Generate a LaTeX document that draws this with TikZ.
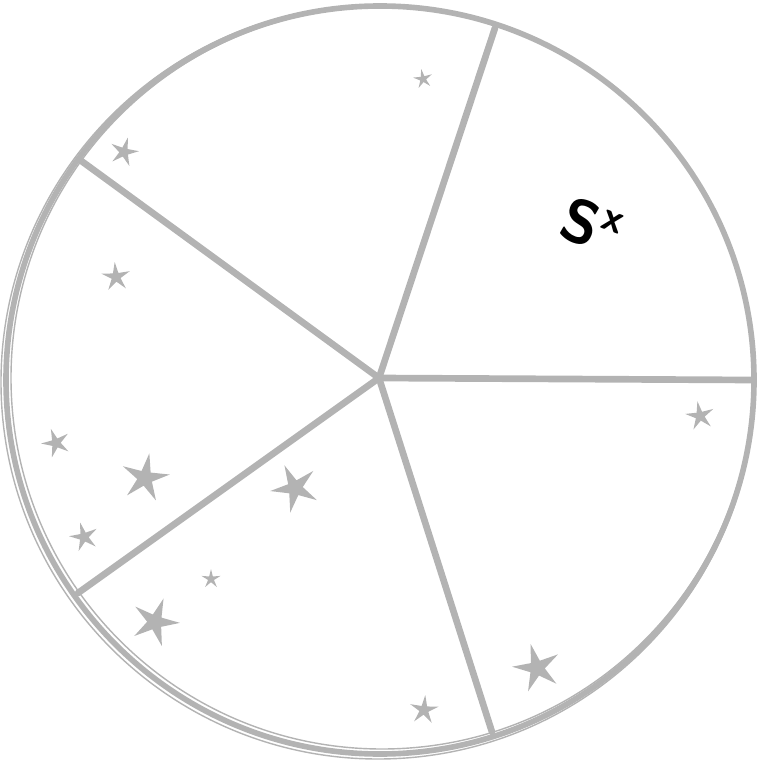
\documentclass[tikz,border=0pt]{standalone}
\usetikzlibrary{shapes.geometric}
\definecolor{chalk}{HTML}{B3B3B3}
\tikzset{
  rim/.style={draw=chalk, line width=1.6pt},
  spoke/.style={draw=chalk, line width=1.9pt, line cap=round},
  starmark/.style={star, star points=5, star point ratio=3.2, fill=chalk, draw=none, inner sep=0pt}
}
\begin{document}
\begin{tikzpicture}[x=0.01cm, y=-0.01cm]
        \useasboundingbox (0,0) rectangle (761,761);
        % Coordinates
        \coordinate (O) at (379, 378);
        \coordinate (A) at (495, 28);
        \coordinate (B) at (752, 380);
        \coordinate (C) at (492, 732);
        \coordinate (D) at (78, 593);
        \coordinate (E) at (80, 160);

        % Drawing
        \draw[rim] (380, 380) circle (374);
        \draw[rim, line width=0.4pt] (382, 378) circle (371);
        \draw[rim, line width=0.4pt] (378, 382) circle (377);
        \draw[spoke] (O) -- (A);
        \draw[spoke] (O) -- (B);
        \draw[spoke] (O) -- (C);
        \draw[spoke] (O) -- (D);
        \draw[spoke] (O) -- (E);

        % Stars
        \foreach \x/\y/\s/\r in {423/79/20/10, 124/152/30/-15, 116/277/30/5,
            56/443/30/20, 145/478/50/-10, 84/537/30/15, 295/488/50/25,
            211/579/20/0, 155/622/50/-20, 700/416/30/10, 537/668/50/15,
            424/710/30/-5}
          \node[starmark, minimum size=\s*0.01cm, rotate=\r] at (\x,\y) {};

        \node[rotate=-20, font=\LARGE\sffamily\bfseries] (label) at (592, 226) {S\textsuperscript{x}};
        \end{tikzpicture}
\end{document}
